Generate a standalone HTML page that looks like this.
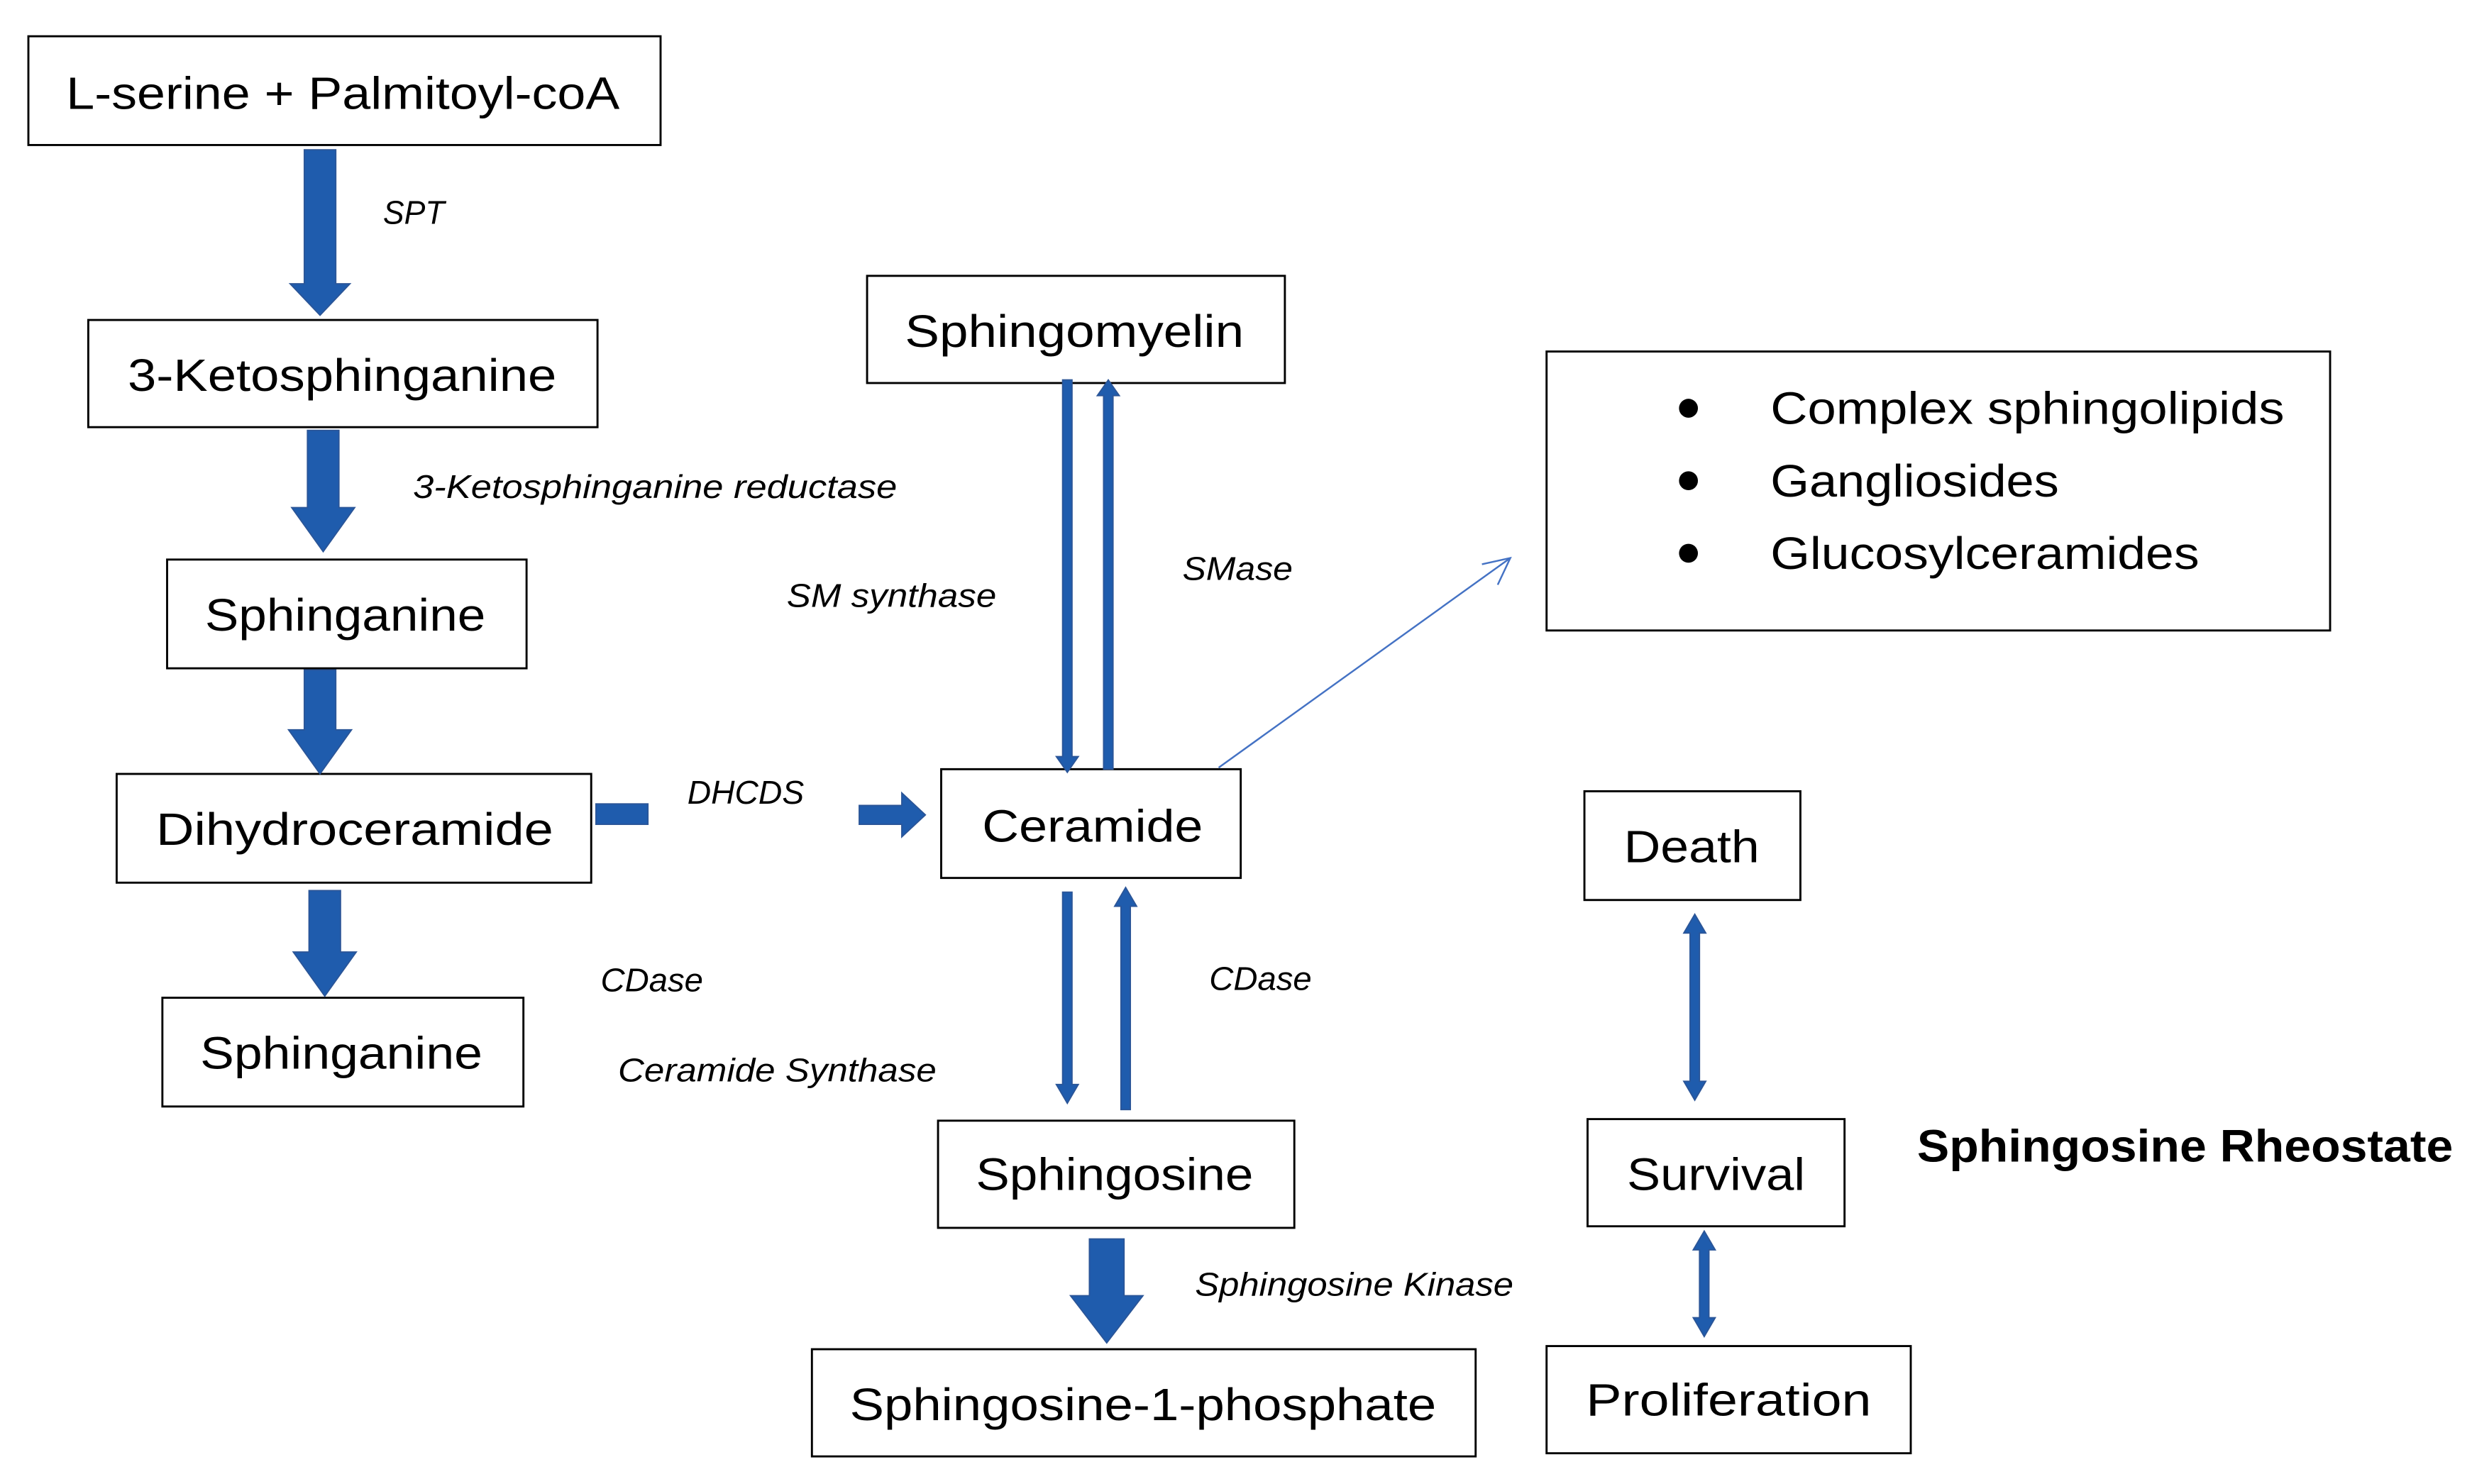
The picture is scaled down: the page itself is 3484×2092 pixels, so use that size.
<!DOCTYPE html>
<html><head><meta charset="utf-8"><style>
html,body{margin:0;padding:0;background:#fff;}
svg{display:block;}
.b{fill:#fff;stroke:#000;stroke-width:1.3;}
.t{font-family:"Liberation Sans",sans-serif;font-size:29px;fill:#000;}
.i{font-family:"Liberation Sans",sans-serif;font-size:21px;font-style:italic;fill:#000;}
.a{fill:#1F5CAD;stroke:#2B5597;stroke-width:0.8;}
</style></head><body>
<svg width="3484" height="2092" viewBox="0 0 1568 941.5" xmlns="http://www.w3.org/2000/svg">
<!-- boxes -->
<rect class="b" x="18" y="23" width="401" height="69"/>
<rect class="b" x="56" y="203" width="323" height="68"/>
<rect class="b" x="106" y="355" width="228" height="69"/>
<rect class="b" x="74" y="491" width="301" height="69"/>
<rect class="b" x="103" y="633" width="229" height="69"/>
<rect class="b" x="550" y="175" width="265" height="68"/>
<rect class="b" x="981" y="223" width="497" height="177"/>
<rect class="b" x="597" y="488" width="190" height="69"/>
<rect class="b" x="595" y="711" width="226" height="68"/>
<rect class="b" x="515" y="856" width="421" height="68"/>
<rect class="b" x="1005" y="502" width="137" height="69"/>
<rect class="b" x="1007" y="710" width="163" height="68"/>
<rect class="b" x="981" y="854" width="231" height="68"/>
<!-- box text -->
<text class="t" x="42" y="69" textLength="351" lengthAdjust="spacingAndGlyphs">L-serine + Palmitoyl-coA</text>
<text class="t" x="81" y="248" textLength="272" lengthAdjust="spacingAndGlyphs">3-Ketosphinganine</text>
<text class="t" x="130" y="400" textLength="178" lengthAdjust="spacingAndGlyphs">Sphinganine</text>
<text class="t" x="99" y="536" textLength="252" lengthAdjust="spacingAndGlyphs">Dihydroceramide</text>
<text class="t" x="127" y="678" textLength="179" lengthAdjust="spacingAndGlyphs">Sphinganine</text>
<text class="t" x="574" y="220" textLength="215" lengthAdjust="spacingAndGlyphs">Sphingomyelin</text>
<circle cx="1071" cy="259" r="6" fill="#000"/>
<circle cx="1071" cy="305" r="6" fill="#000"/>
<circle cx="1071" cy="351" r="6" fill="#000"/>
<text class="t" x="1123" y="269" textLength="326" lengthAdjust="spacingAndGlyphs">Complex sphingolipids</text>
<text class="t" x="1123" y="315" textLength="183" lengthAdjust="spacingAndGlyphs">Gangliosides</text>
<text class="t" x="1123" y="361" textLength="272" lengthAdjust="spacingAndGlyphs">Glucosylceramides</text>
<text class="t" x="623" y="534" textLength="140" lengthAdjust="spacingAndGlyphs">Ceramide</text>
<text class="t" x="619" y="755" textLength="176" lengthAdjust="spacingAndGlyphs">Sphingosine</text>
<text class="t" x="539" y="901" textLength="372" lengthAdjust="spacingAndGlyphs">Sphingosine-1-phosphate</text>
<text class="t" x="1030" y="547" textLength="86" lengthAdjust="spacingAndGlyphs">Death</text>
<text class="t" x="1032" y="755" textLength="113" lengthAdjust="spacingAndGlyphs">Survival</text>
<text class="t" x="1006" y="898" textLength="181" lengthAdjust="spacingAndGlyphs">Proliferation</text>
<text x="1216" y="737" font-family="Liberation Sans, sans-serif" font-weight="bold" font-size="29" textLength="340" lengthAdjust="spacingAndGlyphs">Sphingosine Rheostate</text>
<!-- italic labels -->
<text class="i" x="243" y="142" textLength="39" lengthAdjust="spacingAndGlyphs">SPT</text>
<text class="i" x="262" y="316" textLength="307" lengthAdjust="spacingAndGlyphs">3-Ketosphinganine reductase</text>
<text class="i" x="499" y="385" textLength="133" lengthAdjust="spacingAndGlyphs">SM synthase</text>
<text class="i" x="750" y="368" textLength="70" lengthAdjust="spacingAndGlyphs">SMase</text>
<text class="i" x="436" y="510" textLength="74" lengthAdjust="spacingAndGlyphs">DHCDS</text>
<text class="i" x="381" y="629" textLength="65" lengthAdjust="spacingAndGlyphs">CDase</text>
<text class="i" x="392" y="686" textLength="202" lengthAdjust="spacingAndGlyphs">Ceramide Synthase</text>
<text class="i" x="767" y="628" textLength="65" lengthAdjust="spacingAndGlyphs">CDase</text>
<text class="i" x="758" y="822" textLength="202" lengthAdjust="spacingAndGlyphs">Sphingosine Kinase</text>
<!-- fat arrows -->
<polygon class="a" points="193,95 213,95 213,180 222,180 203,200 184,180 193,180"/>
<polygon class="a" points="195,273 215,273 215,322 225,322 205,350 185,322 195,322"/>
<polygon class="a" points="193,425 213,425 213,463 223,463 203,491 183,463 193,463"/>
<polygon class="a" points="196,565 216,565 216,604 226,604 206,632 186,604 196,604"/>
<polygon class="a" points="691,786 713,786 713,822 725,822 702,852 679,822 691,822"/>
<rect class="a" x="378" y="510" width="33" height="13"/>
<polygon class="a" points="545,511 572,511 572,503 587,517 572,531 572,523 545,523"/>
<!-- thin arrows -->
<polygon class="a" points="674,241 680,241 680,480 684,480 677,490 670,480 674,480"/>
<polygon class="a" points="700,488 706,488 706,251 710,251 703,241 696,251 700,251"/>
<polygon class="a" points="674,566 680,566 680,688 684,688 677,700 670,688 674,688"/>
<polygon class="a" points="711,704 717,704 717,575 721,575 714,563 707,575 711,575"/>
<polygon class="a" points="1075,580 1082,592 1078,592 1078,686 1082,686 1075,698 1068,686 1072,686 1072,592 1068,592"/>
<polygon class="a" points="1081,781 1088,793 1084,793 1084,836 1088,836 1081,848 1074,836 1078,836 1078,793 1074,793"/>
<!-- thin line -->
<g stroke="#4472C4" stroke-width="1.1" fill="none">
<line x1="773" y1="487" x2="958" y2="354"/>
<polyline points="940,358 958,354 950,371"/>
</g>
</svg>
</body></html>
